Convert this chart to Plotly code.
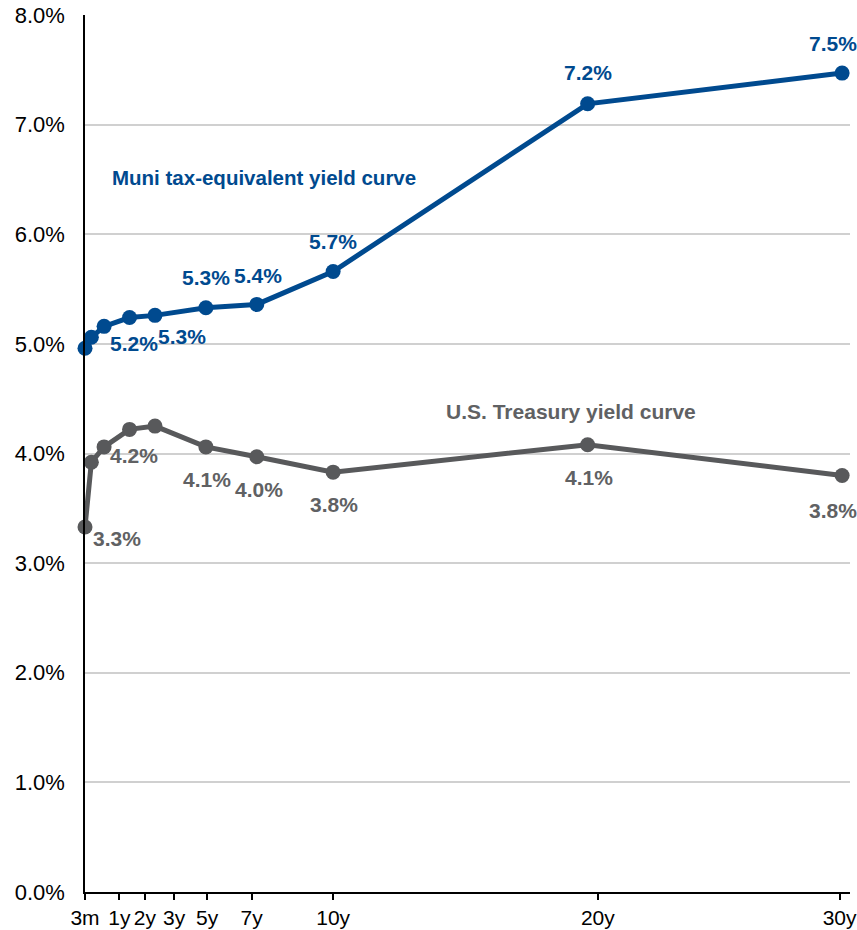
import plotly.graph_objects as go

# ---- data ----
maturity_years = [0.25, 0.5, 1, 2, 3, 5, 7, 10, 20, 30]
muni_tey = [4.96, 5.06, 5.16, 5.24, 5.26, 5.33, 5.36, 5.66, 7.19, 7.47]
treasury = [3.33, 3.92, 4.06, 4.22, 4.25, 4.06, 3.97, 3.83, 4.08, 3.80]
muni_labeled = [3, 4, 5, 6, 7, 8, 9]
treasury_labeled = [0, 3, 5, 6, 7, 8, 9]
x_tick_labels = ["3m", "1y", "2y", "3y", "5y", "7y", "10y", "20y", "30y"]
x_tick_pos = [0.25, 1.6, 2.6, 3.75, 5.05, 6.8, 10, 20.4, 29.9]
y_ticks = [0, 1, 2, 3, 4, 5, 6, 7, 8]

# ---- styles ----
BLUE = "#004a8f"
GRAY = "#58595b"
GRAY_TXT = "#606163"
FONT = "Liberation Sans, Arial, sans-serif"

# label offsets (pixels) per labeled point
muni_off = [(4, -26), (27, -21), (0, 30), (1, 29), (0, 30), (0, 31), (-9, 30)]
tsy_off = [(32, -12), (4, -26), (1, -33), (2, -33), (1, -32), (1, -33), (-9, -35)]

fig = go.Figure()
fig.add_trace(go.Scatter(
    x=maturity_years, y=treasury, mode="lines+markers",
    line=dict(color=GRAY, width=5), marker=dict(size=15, color=GRAY),
    cliponaxis=False, showlegend=False, hoverinfo="x+y"))
fig.add_trace(go.Scatter(
    x=maturity_years, y=muni_tey, mode="lines+markers",
    line=dict(color=BLUE, width=5), marker=dict(size=15, color=BLUE),
    cliponaxis=False, showlegend=False, hoverinfo="x+y"))

annotations = []
for idx, (dx, dy) in zip(muni_labeled, muni_off):
    annotations.append(dict(
        x=maturity_years[idx], y=muni_tey[idx], text=f"<b>{muni_tey[idx]:.1f}%</b>",
        showarrow=False, xshift=dx, yshift=dy,
        font=dict(family=FONT, size=21, color=BLUE)))
for idx, (dx, dy) in zip(treasury_labeled, tsy_off):
    annotations.append(dict(
        x=maturity_years[idx], y=treasury[idx], text=f"<b>{treasury[idx]:.1f}%</b>",
        showarrow=False, xshift=dx, yshift=dy,
        font=dict(family=FONT, size=21, color=GRAY_TXT)))

annotations.append(dict(
    x=1.23, y=6.52, xanchor="left", showarrow=False,
    text="<b>Muni tax-equivalent yield curve</b>",
    font=dict(family=FONT, size=20.5, color=BLUE)))
annotations.append(dict(
    x=19.35, y=4.38, xanchor="center", showarrow=False,
    text="<b>U.S. Treasury yield curve</b>",
    font=dict(family=FONT, size=21, color=GRAY_TXT)))

fig.update_layout(
    width=857, height=930,
    margin=dict(l=85, r=7, t=15, b=38, autoexpand=False),
    paper_bgcolor="white", plot_bgcolor="white",
    font=dict(family=FONT, size=22, color="#000000"),
    annotations=annotations,
    xaxis=dict(
        range=[0.25, 30.31], tickmode="array", tickvals=x_tick_pos,
        ticktext=x_tick_labels, showgrid=False, zeroline=False, automargin=False,
        showline=True, linecolor="#000000", linewidth=2,
        ticks="outside", ticklen=6, tickwidth=1.5, tickcolor="#000000",
        ticklabeloverflow="allow",
        tickfont=dict(family=FONT, size=21, color="#000000")),
    yaxis=dict(
        range=[0, 8], tickmode="array", tickvals=y_ticks, automargin=False,
        ticktext=[f"{v:.1f}%" for v in y_ticks],
        showgrid=True, gridcolor="#d0d0d0", gridwidth=1.5, zeroline=False,
        showline=True, linecolor="#000000", linewidth=1.5,
        ticks="", ticklabelstandoff=14,
        tickfont=dict(family=FONT, size=22, color="#000000")),
)

fig.write_html("out.html", config={"displayModeBar": False},
               post_script="document.body.style.margin='0';document.body.style.overflow='hidden';")
